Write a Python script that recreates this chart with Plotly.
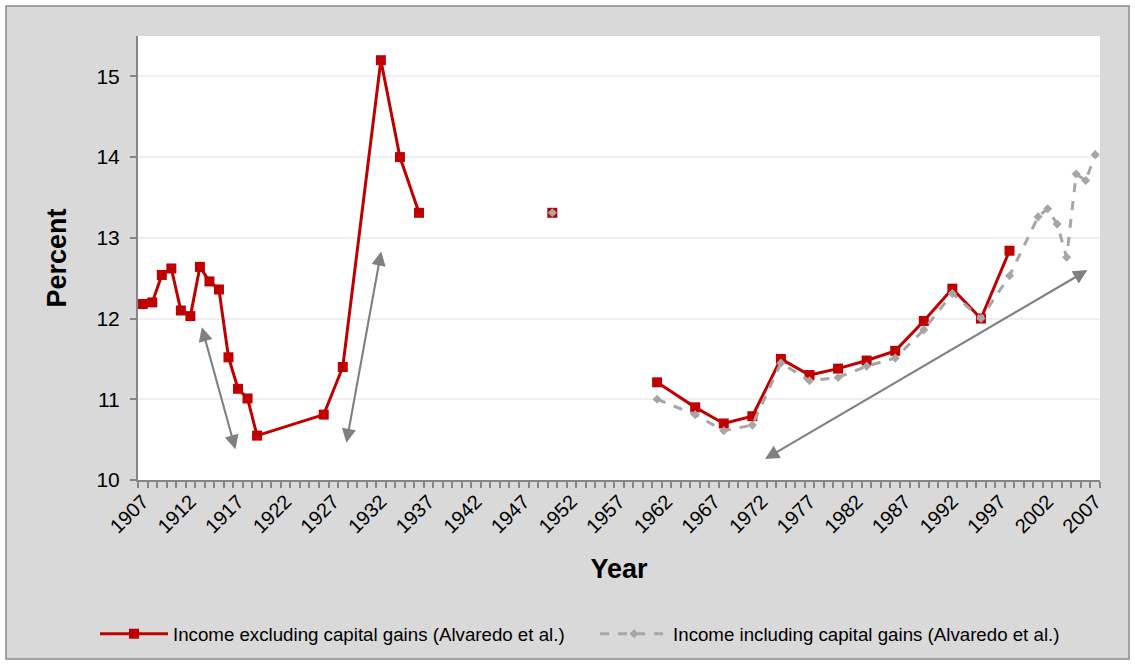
import plotly.graph_objects as go

# ---- data ----
red_years = [1907, 1908, 1909, 1910, 1911, 1912, 1913, 1914, 1915, 1916, 1917, 1918, 1919,
             1926, 1928, 1932, 1934, 1936, None, 1950, None,
             1961, 1965, 1968, 1971, 1974, 1977, 1980, 1983, 1986, 1989, 1992, 1995, 1998]
red_values = [12.18, 12.20, 12.54, 12.62, 12.10, 12.03, 12.64, 12.46, 12.36, 11.52, 11.13, 11.01, 10.55,
              10.81, 11.40, 15.20, 14.00, 13.31, None, 13.31, None,
              11.21, 10.90, 10.70, 10.79, 11.50, 11.30, 11.38, 11.48, 11.60, 11.97, 12.37, 12.00, 12.84]

gray_years = [1950, None,
              1961, 1965, 1968, 1971, 1974, 1977, 1980, 1983, 1986, 1989, 1992, 1995, 1998,
              2001, 2002, 2003, 2004, 2005, 2006, 2007]
gray_values = [13.31, None,
               11.00, 10.81, 10.61, 10.68, 11.45, 11.23, 11.27, 11.41, 11.51, 11.86, 12.31, 12.00, 12.53,
               13.26, 13.36, 13.17, 12.76, 13.79, 13.71, 14.03]

x_tick_years = list(range(1907, 2008, 5))
x_tick_labels = [str(y) for y in x_tick_years]
y_tick_values = [10, 11, 12, 13, 14, 15]

# double-headed trend arrows (start year, start value, end year, end value)
arrows = [
    (1913.16, 11.91, 1916.73, 10.38),
    (1932.06, 12.85, 1928.38, 10.46),
    (1972.17, 10.25, 2006.18, 12.60),
]

series1_name = "Income excluding capital gains (Alvaredo et al.)"
series2_name = "Income including capital gains (Alvaredo et al.)"

FONT = "Arial, 'Liberation Sans', sans-serif"
RED = "#C00000"
GRAY = "#A6A6A6"
AXIS = "#868686"

fig = go.Figure()
fig.add_trace(go.Scatter(
    x=red_years, y=red_values, name=series1_name, mode="lines+markers",
    line=dict(color=RED, width=3),
    marker=dict(symbol="square", size=10, color=RED),
    connectgaps=False, legend="legend",
))
fig.add_trace(go.Scatter(
    x=gray_years, y=gray_values, name=series2_name, mode="lines+markers",
    line=dict(color=GRAY, width=3, dash="dash"),
    marker=dict(symbol="diamond", size=7, color=GRAY),
    connectgaps=False, legend="legend2",
))

annotations = []
for x0, y0, x1, y1 in arrows:
    annotations.append(dict(
        x=x1, y=y1, ax=x0, ay=y0, xref="x", yref="y", axref="x", ayref="y",
        text="", showarrow=True, arrowhead=2, arrowside="end+start",
        arrowsize=1.35, arrowwidth=2.1, arrowcolor="#808080", standoff=0, startstandoff=0,
    ))

shapes = [
    # outer chart area (grey with border)
    dict(type="rect", xref="paper", yref="paper", x0=-0.1372, x1=1.0302, y0=-0.4032, y1=1.0676,
         fillcolor="#D9D9D9", line=dict(color="#898989", width=1.5), layer="below"),
    # white plot area
    dict(type="rect", xref="paper", yref="paper", x0=0, x1=1, y0=0, y1=1,
         fillcolor="white", line=dict(width=0), layer="below"),
]

legend_common = dict(y=-0.347, xanchor="left", yanchor="middle", orientation="h",
                     bgcolor="rgba(0,0,0,0)", font=dict(size=18.7, family=FONT), itemwidth=68)

fig.update_layout(
    width=1135, height=665,
    margin=dict(l=138, r=35, t=36, b=185),
    paper_bgcolor="white", plot_bgcolor="white",
    font=dict(family=FONT, color="black", size=16),
    shapes=shapes, annotations=annotations,
    showlegend=True,
    legend=dict(x=-0.0447, **legend_common),
    legend2=dict(x=0.4751, **legend_common),
)

fig.update_xaxes(
    range=[1906.5, 2007.5], tickmode="array", tickvals=x_tick_years, ticktext=x_tick_labels,
    tickangle=-45, tickfont=dict(size=20), ticks="", showgrid=False, zeroline=False,
    showline=True, linecolor=AXIS, linewidth=2,
    minor=dict(tick0=1906.5, dtick=1, ticks="outside", ticklen=6, tickcolor=AXIS, tickwidth=1.5, showgrid=False),
    title=dict(text="<b>Year</b>", font=dict(size=27), standoff=23),
)
fig.update_yaxes(
    range=[10, 15.5], tickmode="array", tickvals=y_tick_values, tickfont=dict(size=21),
    ticks="outside", ticklen=6, tickcolor=AXIS, tickwidth=1.5, ticklabelstandoff=6,
    showgrid=True, gridcolor="#EFEFEF", gridwidth=1.5, zeroline=False,
    showline=True, linecolor=AXIS, linewidth=2,
    title=dict(text="<b>Percent</b>", font=dict(size=27), standoff=22),
)

fig.write_html("out.html", config={"displayModeBar": False},
               post_script="document.body.style.margin='0';document.body.style.overflow='hidden';")
